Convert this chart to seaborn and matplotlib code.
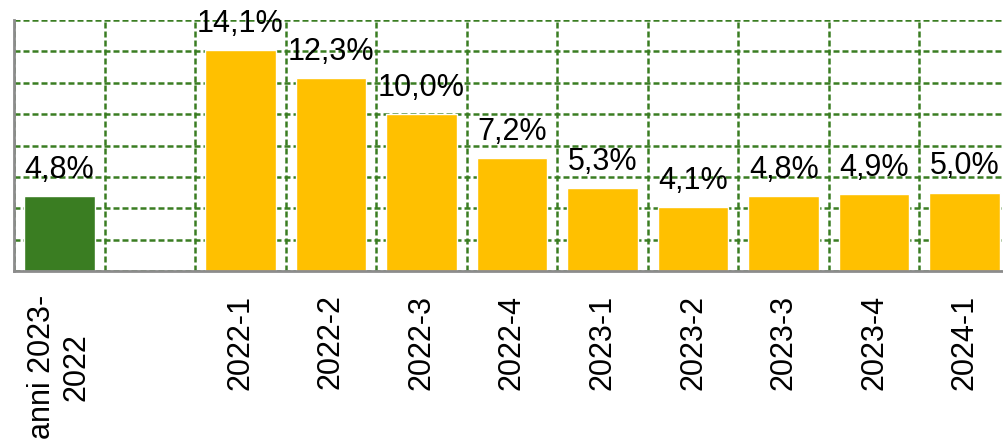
import numpy as np
import pandas as pd
import seaborn as sns
import matplotlib.pyplot as plt
from matplotlib.ticker import MultipleLocator, FixedLocator

# Data
categories = ["anni 2023-\n2022", " ", "2022-1", "2022-2", "2022-3", "2022-4",
              "2023-1", "2023-2", "2023-3", "2023-4", "2024-1"]
values = [4.8, np.nan, 14.1, 12.3, 10.0, 7.2, 5.3, 4.1, 4.8, 4.9, 5.0]
groups = ["anni", "anni", "trim", "trim", "trim", "trim",
          "trim", "trim", "trim", "trim", "trim"]

df = pd.DataFrame({"cat": categories, "val": values, "grp": groups})

green = "#3A7D22"
yellow = "#FFC000"
grey = "#8C8C8C"

sns.set_style("white")
plt.rcParams['font.family'] = ['Liberation Sans', 'DejaVu Sans']
plt.rcParams['text.color'] = 'black'
plt.rcParams['xtick.color'] = 'black'

fig = plt.figure(figsize=(10.04, 4.42), dpi=100)
ax = fig.add_axes([14 / 1004, 171 / 442, 996 / 1004, 251 / 442])

sns.barplot(data=df, x="cat", y="val", hue="grp", order=categories,
            palette={"anni": green, "trim": yellow}, dodge=False,
            width=0.78, legend=False, ax=ax, saturation=1)

# Value labels
for cont in ax.containers:
    labels = []
    for v in cont.datavalues:
        labels.append("" if np.isnan(v) else f"{v:.1f}%".replace(".", ","))
    ax.bar_label(cont, labels=labels, padding=8, fontsize=22, color="black")

ax.set_ylim(0, 16)
ax.set_xlim(-0.5, len(categories) - 0.5)
ax.yaxis.set_major_locator(MultipleLocator(2))
ax.set_yticklabels([])
ax.tick_params(axis="y", length=0)

# Gridlines at category boundaries
bounds = np.arange(len(categories) + 1) - 0.5
ax.xaxis.set_minor_locator(FixedLocator(bounds))
ax.tick_params(axis="x", which="major", length=0, pad=17, labelsize=22, labelcolor="black")
ax.tick_params(axis="x", which="minor", length=9, width=2, color=grey)
for lbl in ax.get_xticklabels():
    lbl.set_rotation(90)
    lbl.set_ha("center")
    lbl.set_va("top")
    lbl.set_multialignment("center")

dash = (0, (2.4, 1.2))
ax.grid(True, which="major", axis="y", color=green, linestyle=dash, linewidth=1.8)
ax.grid(True, which="minor", axis="x", color=green, linestyle=dash, linewidth=1.8)
ax.set_axisbelow(True)

ax.set_xlabel("")
ax.set_ylabel("")
for side in ["top", "right"]:
    ax.spines[side].set_visible(False)
for side in ["left", "bottom"]:
    ax.spines[side].set_color(grey)
    ax.spines[side].set_linewidth(2)

fig.savefig("out.png", dpi=100)
